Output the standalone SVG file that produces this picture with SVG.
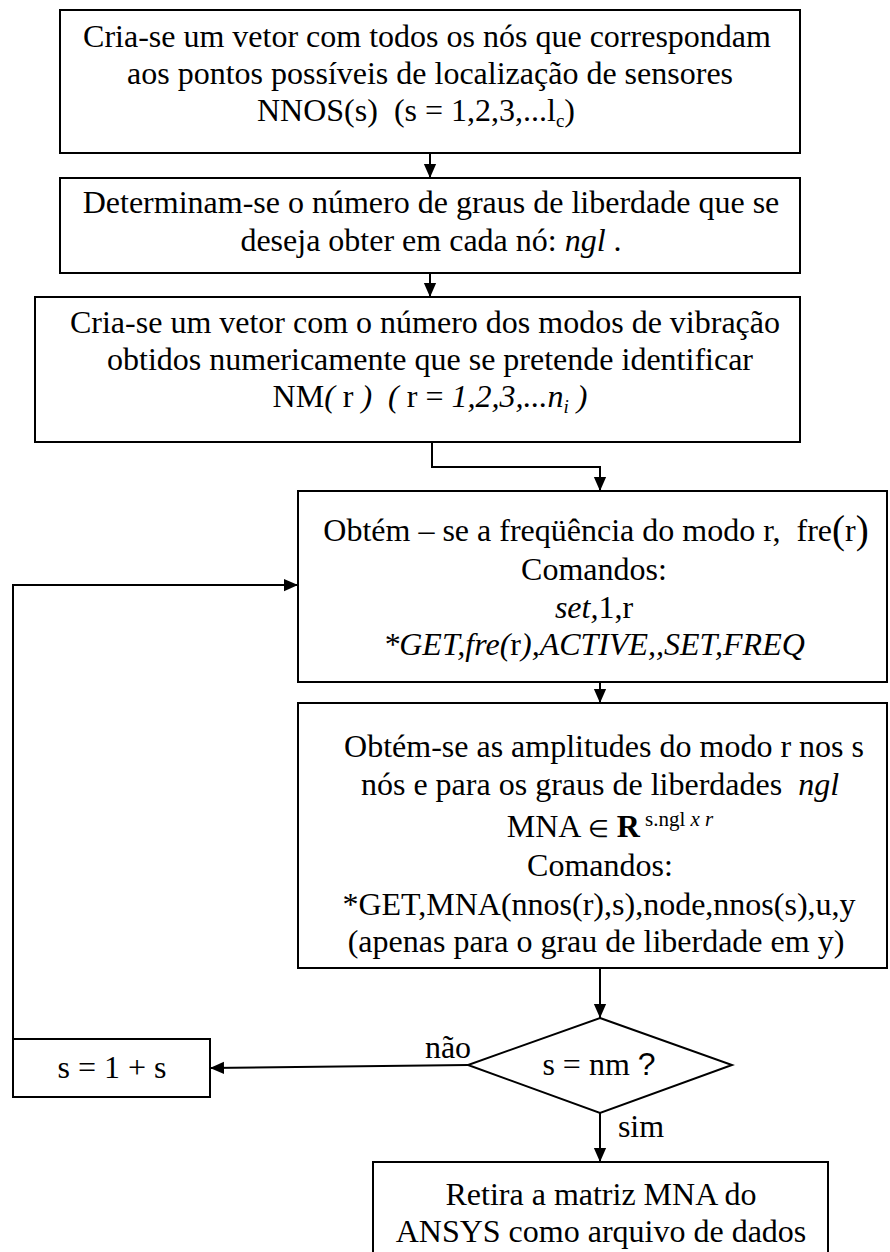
<svg xmlns="http://www.w3.org/2000/svg" width="890" height="1252" viewBox="0 0 890 1252">
<defs>
<marker id="ah" markerWidth="14" markerHeight="16" viewBox="0 0 16 14" refX="16" refY="7" orient="auto" markerUnits="userSpaceOnUse">
<path d="M0,0 L16,7 L0,14 Z" fill="#000"/>
</marker>
<style>
.box{fill:#fff;stroke:#000;stroke-width:2}
.t{font-family:"Liberation Serif","Times New Roman",serif;font-size:32px;fill:#000;text-anchor:middle}
.i{font-style:italic}
.sub{font-size:19px}
.c{fill:none;stroke:#000;stroke-width:2}
</style>
</defs>
<rect width="890" height="1252" fill="#fff"/>
<g id="connectors">
<line class="c" x1="430" y1="153" x2="430" y2="178" marker-end="url(#ah)"/>
<line class="c" x1="430" y1="273" x2="430" y2="297" marker-end="url(#ah)"/>
<polyline class="c" points="432,442 432,467 600,467 600,491" marker-end="url(#ah)"/>
<line class="c" x1="600" y1="682" x2="600" y2="703" marker-end="url(#ah)"/>
<line class="c" x1="600" y1="968" x2="600" y2="1018" marker-end="url(#ah)"/>
<line class="c" x1="468" y1="1065" x2="210" y2="1068" marker-end="url(#ah)"/>
<polyline class="c" points="13,1039 13,585 298,585" marker-end="url(#ah)"/>
<line class="c" x1="600" y1="1113" x2="600" y2="1162" marker-end="url(#ah)"/>
<text class="t" x="448" y="1058">não</text>
<text class="t" x="641" y="1137">sim</text>
</g>
<g id="n1">
<rect class="box" x="60" y="10" width="740" height="143"/>
<text class="t" x="427" y="47">Cria-se um vetor com todos os nós que correspondam</text>
<text class="t" x="430" y="84">aos pontos possíveis de localização de sensores</text>
<text class="t" x="416" y="121" xml:space="preserve">NNOS(s)  (s = 1,2,3,...l<tspan class="sub" dy="6">c</tspan><tspan dy="-6">)</tspan></text>
</g>
<g id="n2">
<rect class="box" x="60" y="178" width="740" height="95"/>
<text class="t" x="431" y="213">Determinam-se o número de graus de liberdade que se</text>
<text class="t" x="431" y="251">deseja obter em cada nó: <tspan class="i">ngl</tspan> .</text>
</g>
<g id="n3">
<rect class="box" x="35" y="297" width="765" height="145"/>
<text class="t" x="425" y="333">Cria-se um vetor com o número dos modos de vibração</text>
<text class="t" x="430" y="370">obtidos numericamente que se pretende identificar</text>
<text class="t" x="430" y="407" xml:space="preserve">NM<tspan class="i">(</tspan> r <tspan class="i">)</tspan>  <tspan class="i">(</tspan> r = <tspan class="i">1,2,3,...n</tspan><tspan class="i sub" dy="6">i</tspan><tspan class="i" dy="-6"> )</tspan></text>
</g>
<g id="n4">
<rect class="box" x="298" y="491" width="589" height="191"/>
<text class="t" x="596" y="541" xml:space="preserve">Obtém – se a freqüência do modo r,  fre<tspan font-size="39" dy="2">(</tspan><tspan dy="-2">r</tspan><tspan font-size="39" dy="2">)</tspan></text>
<text class="t" x="594" y="580">Comandos:</text>
<text class="t" x="594" y="618"><tspan class="i">set,</tspan>1,r</text>
<text class="t" x="594" y="655"><tspan class="i">*GET,fre(</tspan>r<tspan class="i">),ACTIVE,,SET,FREQ</tspan></text>
</g>
<g id="n5">
<rect class="box" x="298" y="703" width="589" height="265"/>
<text class="t" x="604" y="757">Obtém-se as amplitudes do modo r nos s</text>
<text class="t" x="600" y="795" xml:space="preserve">nós e para os graus de liberdades  <tspan class="i">ngl</tspan></text>
<text class="t" x="610" y="837">MNA <tspan font-size="24">∈</tspan> <tspan font-weight="bold">R</tspan><tspan font-size="21" dy="-11"> s.ngl <tspan class="i">x r</tspan></tspan></text>
<text class="t" x="600" y="876">Comandos:</text>
<text class="t" x="599" y="915">*GET,MNA(nnos(r),s),node,nnos(s),u,y</text>
<text class="t" x="596" y="952">(apenas para o grau de liberdade em y)</text>
</g>
<g id="n6">
<polygon class="box" points="600,1018 732,1065 600,1113 468,1065"/>
<text class="t" x="599" y="1075">s = nm <tspan font-family="Liberation Sans, Arial, sans-serif">?</tspan></text>
</g>
<g id="n7">
<rect class="box" x="13" y="1039" width="197" height="58"/>
<text class="t" x="112" y="1078">s = 1 + s</text>
</g>
<g id="n8">
<rect class="box" x="373" y="1162" width="455" height="100"/>
<text class="t" x="601" y="1205">Retira a matriz MNA do</text>
<text class="t" x="601" y="1242">ANSYS como arquivo de dados</text>
</g>
</svg>
